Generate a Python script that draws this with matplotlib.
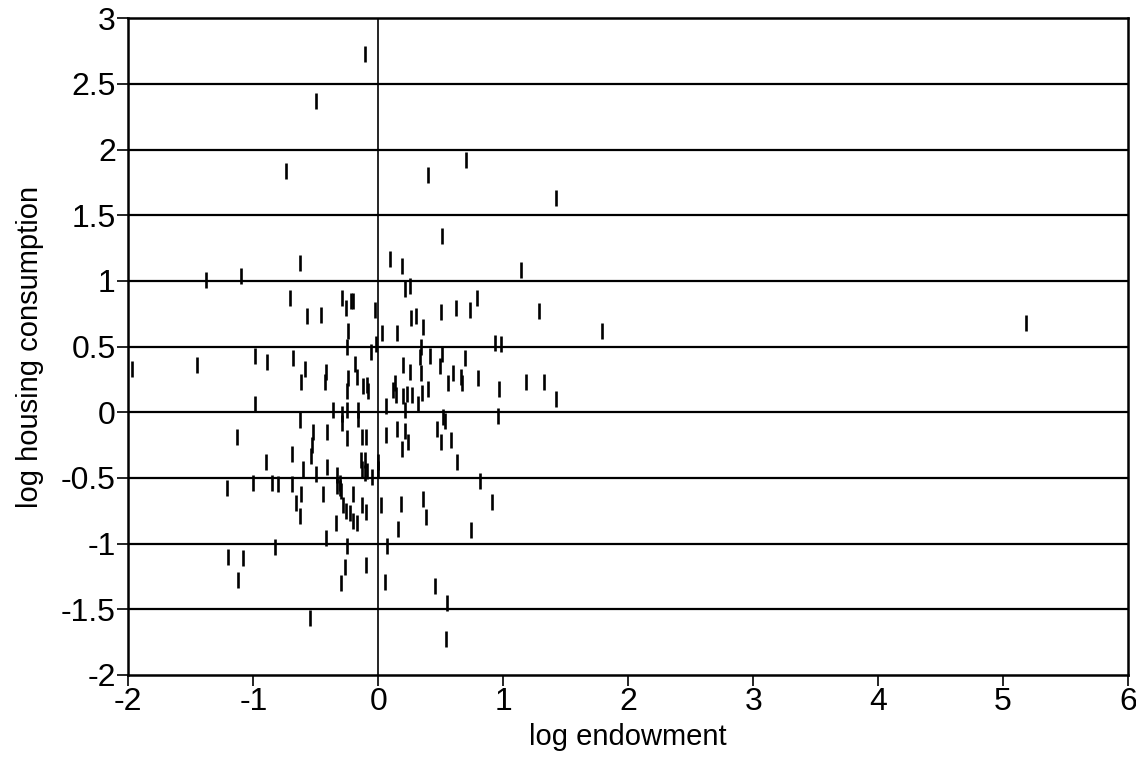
import matplotlib
matplotlib.use("Agg")
import matplotlib.pyplot as plt

# log endowment / log housing consumption
log_endowment = [
    -0.11, -0.50, -0.74, 0.40, 0.70, 0.51, 1.42, 1.14, 1.29, 1.79, 5.18,
    1.18, 1.33, 1.42,
    -0.63, -1.38, -1.10, -0.71, -0.29, -0.57, -0.46, -1.45, -0.99, -0.89,
    -0.68, -0.59, -0.62, -0.42, -0.43, -0.99, -0.36, -1.97,
    0.09, 0.19, 0.21, 0.25, -0.22, -0.20, -0.26, -0.03, 0.26, 0.30, 0.50,
    0.62, 0.73, 0.79, -0.24, 0.03, 0.15, 0.36, 0.34, -0.25, -0.02, -0.06,
    0.93, 0.98, -0.19, -0.24, -0.17, -0.12, -0.09, -0.08, -0.25, 0.13,
    0.20, 0.25, 0.33, 0.34, 0.35, 0.41, 0.51, 0.49, 0.60, 0.56, 0.69,
    0.66, 0.67, 0.80, 0.97, 0.40, 0.12, 0.14, 0.20, 0.23, 0.27, 0.06,
    0.32, -0.25, -0.16, 0.21,
    -0.29, -0.16, -0.25, -0.13, -0.10, 0.06, 0.15, 0.21, 0.24, 0.19,
    0.47, 0.50, 0.52, 0.53, 0.58, 0.96, 0.63, -0.14, -0.11, -0.13,
    -0.11, -0.09, 0.00, 0.00, -0.05, -0.33, -0.31, 0.81, -0.20, -0.30,
    -0.28, -0.26, -0.23, -0.20, -0.17, -0.34, -0.13, -0.10, 0.02, 0.18,
    0.36, 0.38, 0.16, 0.74, 0.91, -0.25, 0.07, -0.27, -0.10, -0.30,
    0.05, 0.45,
    -0.63, -1.13, -0.52, -0.53, -0.54, -0.41, -0.29, -0.69, -0.90, -0.60,
    -0.50, -0.41, -1.21, -1.00, -0.85, -0.80, -0.69, -0.62, -0.66, -0.63,
    -0.44, -0.33, -0.31, -0.83, -0.42, -1.20, -1.08, -1.12,
    -0.55, 0.54, 0.55,
]
log_housing = [
    2.73, 2.37, 1.84, 1.81, 1.92, 1.34, 1.63, 1.08, 0.77, 0.62, 0.68,
    0.23, 0.23, 0.10,
    1.14, 1.01, 1.04, 0.87, 0.87, 0.73, 0.74, 0.36, 0.43, 0.38,
    0.41, 0.33, 0.23, 0.31, 0.23, 0.06, 0.02, 0.33,
    1.17, 1.11, 0.94, 0.96, 0.85, 0.85, 0.79, 0.78, 0.72, 0.73, 0.76,
    0.79, 0.78, 0.87, 0.62, 0.60, 0.60, 0.65, 0.50, 0.50, 0.52, 0.46,
    0.53, 0.52, 0.37, 0.26, 0.27, 0.20, 0.21, 0.16, 0.16, 0.22,
    0.36, 0.31, 0.42, 0.30, 0.15, 0.43, 0.44, 0.35, 0.30, 0.22, 0.41,
    0.27, 0.22, 0.26, 0.18, 0.18, 0.17, 0.13, 0.12, 0.14, 0.13, 0.05,
    0.06, 0.02, 0.02, 0.02,
    -0.01, -0.05, -0.20, -0.19, -0.19, -0.17, -0.13, -0.14, -0.23, -0.28,
    -0.13, -0.23, -0.04, -0.07, -0.21, -0.03, -0.38, -0.36, -0.36, -0.43,
    -0.46, -0.45, -0.38, -0.43, -0.49, -0.48, -0.54, -0.52, -0.62, -0.60,
    -0.71, -0.75, -0.77, -0.83, -0.84, -0.84, -0.71, -0.76, -0.71, -0.70,
    -0.66, -0.80, -0.89, -0.90, -0.68, -1.02, -1.02, -1.18, -1.16, -1.30,
    -1.29, -1.32,
    -0.06, -0.19, -0.15, -0.25, -0.33, -0.15, -0.08, -0.32, -0.38, -0.43,
    -0.47, -0.42, -0.58, -0.54, -0.54, -0.55, -0.55, -0.62, -0.69, -0.79,
    -0.62, -0.56, -0.58, -1.03, -0.96, -1.10, -1.11, -1.28,
    -1.57, -1.73, -1.45,
]

x_ticks = [-2, -1, 0, 1, 2, 3, 4, 5, 6]
y_ticks = [-2, -1.5, -1, -0.5, 0, 0.5, 1, 1.5, 2, 2.5, 3]
y_tick_labels = ["-2", "-1.5", "-1", "-0.5", "0", "0.5", "1", "1.5", "2", "2.5", "3"]

plt.rcParams["font.family"] = ["Liberation Sans", "DejaVu Sans"]

fig = plt.figure(figsize=(11.36, 7.6), dpi=100)
ax = fig.add_axes([0.113, 0.112, 0.880, 0.864])

# horizontal rules at every y tick and a vertical rule at x = 0
for yv in y_ticks[1:-1]:
    ax.axhline(yv, color="black", lw=1.6, zorder=1)
ax.axvline(0, color="black", lw=1.2, zorder=1)

ax.plot(log_endowment, log_housing, linestyle="none", marker="|",
        markersize=11, markeredgewidth=1.9, color="black", zorder=2)

ax.set_xlim(-2, 6)
ax.set_ylim(-2, 3)
ax.set_xticks(x_ticks)
ax.set_xticklabels([str(t) for t in x_ticks])
ax.set_yticks(y_ticks)
ax.set_yticklabels(y_tick_labels)
ax.tick_params(axis="both", direction="out", length=8, width=1.2,
               labelsize=23, colors="black", pad=1)

for s in ax.spines.values():
    s.set_linewidth(1.8)
    s.set_color("black")

ax.set_xlabel("log endowment", fontsize=21, labelpad=4)
ax.set_ylabel("log housing consumption", fontsize=21, labelpad=12)

fig.savefig("out.png", dpi=100)
